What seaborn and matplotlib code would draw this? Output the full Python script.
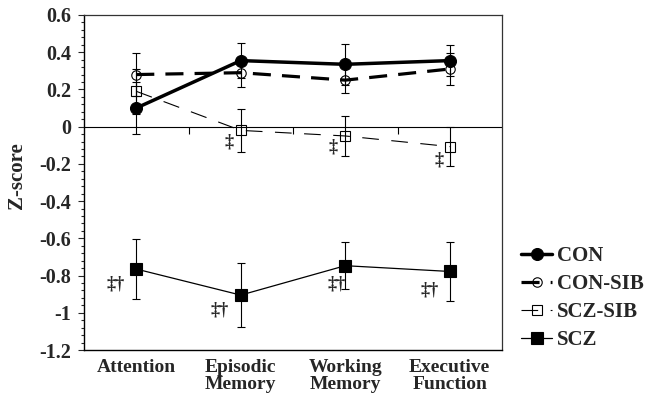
import numpy as np
import pandas as pd
import matplotlib
matplotlib.use("Agg")
import matplotlib.pyplot as plt
from matplotlib.ticker import FixedLocator, MultipleLocator, FuncFormatter
import seaborn as sns

# Cognitive domains and groups
domains = ["Attention", "Episodic\nMemory", "Working\nMemory", "Executive\nFunction"]
groups = ["CON", "CON-SIB", "SCZ-SIB", "SCZ"]

# Mean z-scores and error (one SE) per domain
con_mean = [0.10, 0.355, 0.335, 0.355]
con_err = [0.14, 0.095, 0.11, 0.085]
consib_mean = [0.28, 0.29, 0.25, 0.31]
consib_err = [0.115, 0.075, 0.07, 0.085]
sczsib_mean = [0.19, -0.02, -0.05, -0.107]
sczsib_err = [0.12, 0.115, 0.105, 0.107]
scz_mean = [-0.765, -0.905, -0.747, -0.778]
scz_err = [0.16, 0.17, 0.127, 0.16]

# Significance symbols
sczsib_marks = ["", "\u2021", "\u2021", "\u2021"]
scz_marks = ["\u2021\u2020", "\u2021\u2020", "\u2021\u2020", "\u2021\u2020"]

means = {"CON": con_mean, "CON-SIB": consib_mean, "SCZ-SIB": sczsib_mean, "SCZ": scz_mean}
errs = {"CON": con_err, "CON-SIB": consib_err, "SCZ-SIB": sczsib_err, "SCZ": scz_err}

rows = []
for g in groups:
    for i, d in enumerate(domains):
        rows.append({"group": g, "pos": i, "domain": d, "z": means[g][i], "err": errs[g][i]})
df = pd.DataFrame(rows)

sns.set_style("ticks")
plt.rcParams["font.family"] = ["Liberation Serif", "DejaVu Serif"]
plt.rcParams["font.weight"] = "bold"
plt.rcParams["lines.scale_dashes"] = False

fig = plt.figure(figsize=(6.49, 3.97), dpi=100)
ax = fig.add_axes([84 / 649, 1 - 350 / 397, 418 / 649, 335 / 397])

styles = {
    "CON": dict(linewidth=2.5, linestyle="-", marker="o", markersize=8.6,
                markerfacecolor="black", markeredgewidth=0.8, zorder=5),
    "CON-SIB": dict(linewidth=2.3, linestyle=(0, (13, 8)), marker="o", markersize=6.8,
                    markerfacecolor="none", markeredgewidth=0.8, zorder=4),
    "SCZ-SIB": dict(linewidth=0.8, linestyle=(0, (12, 9)), marker="s", markersize=6.8,
                    markerfacecolor="none", markeredgewidth=0.8, zorder=3),
    "SCZ": dict(linewidth=0.9, linestyle="-", marker="s", markersize=8.4,
                markerfacecolor="black", markeredgewidth=0.8, zorder=3),
}

# zero reference line with tick marks between domains
ax.axhline(0, color="black", linewidth=0.8, zorder=1)
bounds = np.arange(len(domains) - 1) + 0.5
ax.vlines(bounds, -0.037, 0, color="black", linewidth=0.8, zorder=1)

handles = []
for g in groups:
    sub = df[df["group"] == g]
    ax.errorbar(sub["pos"], sub["z"], yerr=sub["err"], fmt="none", ecolor="black",
                elinewidth=0.8, capsize=2.9, capthick=0.8, zorder=2)
    sns.lineplot(data=sub, x="pos", y="z", ax=ax, color="black",
                 markeredgecolor="black", label=g, legend=False, **styles[g])
    handles.append(ax.lines[-1])

# significance annotations (offsets in points from the marker)
sczsib_off = [(0, 0), (-8.5, -8), (-8.5, -8), (-7.5, -9.5)]
scz_off = [(-15, -11), (-15, -11), (-6.5, -13), (-14.5, -13)]
for i in range(len(domains)):
    if sczsib_marks[i]:
        ax.annotate(sczsib_marks[i], (i, sczsib_mean[i]), xytext=sczsib_off[i],
                    textcoords="offset points", ha="center", va="center", fontsize=13)
    if scz_marks[i]:
        ax.annotate(scz_marks[i], (i, scz_mean[i]), xytext=scz_off[i],
                    textcoords="offset points", ha="center", va="center", fontsize=13)

ax.set_xlim(-0.5, len(domains) - 0.5)
ax.set_ylim(-1.2, 0.6)
ax.set_xticks(range(len(domains)))
ax.set_xticklabels(domains, fontsize=14, fontweight="bold", linespacing=1.0)
ax.tick_params(axis="x", length=0, pad=6.5)


def ylab(v, p):
    v = round(v, 2)
    if abs(v) < 1e-9:
        return "0"
    return f"{v:g}"


ax.yaxis.set_major_locator(FixedLocator(np.round(np.arange(-1.2, 0.61, 0.2), 2)))
ax.yaxis.set_minor_locator(MultipleLocator(0.04))
ax.yaxis.set_major_formatter(FuncFormatter(ylab))
ax.tick_params(axis="y", which="major", direction="out", length=4.3, width=0.8,
               pad=5.0, labelsize=14.5)
ax.tick_params(axis="y", which="minor", direction="out", length=2.2, width=0.8)
for lab in ax.get_yticklabels():
    lab.set_fontweight("bold")

ax.set_xlabel("")
ax.set_ylabel("")
fig.text(17 / 649, 1 - 176 / 397, "Z-score", rotation=90, ha="center", va="center",
         fontsize=15, fontweight="bold")

for side in ["left", "bottom"]:
    ax.spines[side].set_color("black")
    ax.spines[side].set_linewidth(1.0)
for side in ["top", "right"]:
    ax.spines[side].set_visible(True)
    ax.spines[side].set_color("#333333")
    ax.spines[side].set_linewidth(0.9)

fig.legend(handles, groups, loc="upper left", bbox_to_anchor=(511 / 649, 1 - 236 / 397),
           frameon=False, borderpad=0, handlelength=1.45, handletextpad=0.25,
           labelspacing=0.38, prop={"size": 15, "weight": "bold"})

fig.savefig("out.png", dpi=100)
